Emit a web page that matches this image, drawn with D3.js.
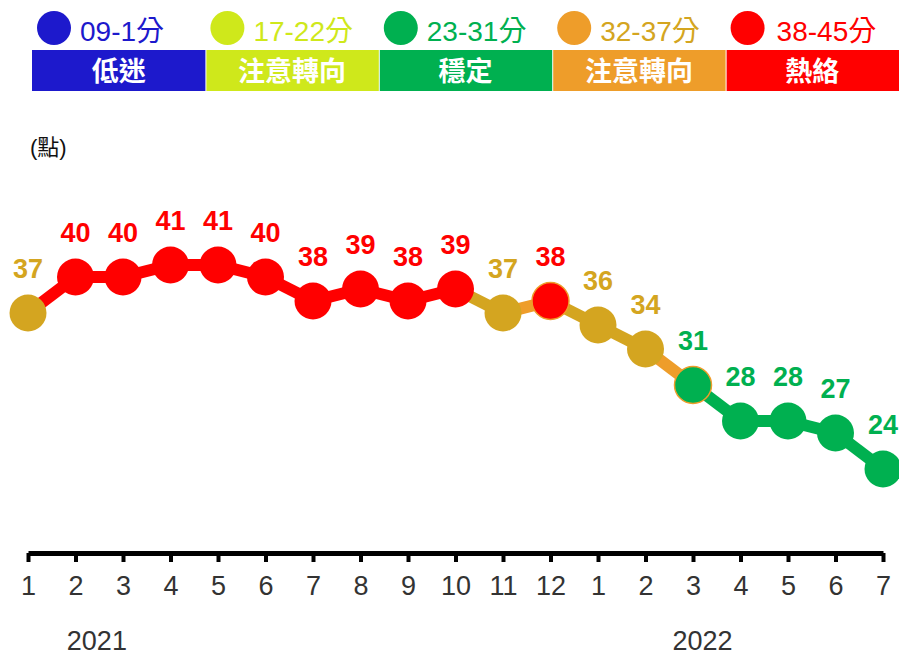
<!DOCTYPE html>
<html>
<head>
<meta charset="utf-8">
<script src="https://cdn.jsdelivr.net/npm/d3@7"></script>
<style>
  body { margin: 0; background: #fff; }
  svg { display: block; font-family: "Liberation Sans", Arial, "Noto Sans CJK TC", sans-serif; }
</style>
</head>
<body>
<div id="svganchor"></div>
<script>
let width = 899, height = 656;

// data
let months = ["1","2","3","4","5","6","7","8","9","10","11","12","1","2","3","4","5","6","7"];
let scores = [37, 40, 40, 41, 41, 40, 38, 39, 38, 39, 37, 38, 36, 34, 31, 28, 28, 27, 24];
let years = ["2021", "2022"];
let yearAt = [1.45, 14.2];   // position of year labels, in month-index units

let legendRanges = ["09-1分", "17-22分", "23-31分", "32-37分", "38-45分"];
let legendNames = ["低迷", "注意轉向", "穩定", "注意轉向", "熱絡"];
let legendColors = ["#1d19cc", "#cfe81b", "#00b050", "#ee9d2a", "#ff0000"];
let legendTextColors = ["#1d19cc", "#cfe81b", "#00b050", "#d4a520", "#ff0000"];

// line segment colours (between point i and i+1)
let segColors = ["#ff0000", "#ff0000", "#ff0000", "#ff0000", "#ff0000", "#ff0000", "#ff0000", "#ff0000", "#ff0000",
    "#d4a520", "#ee9d2a", "#d4a520", "#d4a520", "#ee9d2a",
    "#00b050", "#00b050", "#00b050", "#00b050"];

function pointColor(v) {
    if (v >= 38) return "#ff0000";
    if (v >= 32) return "#d4a520";
    if (v >= 23) return "#00b050";
    if (v >= 17) return "#cfe81b";
    return "#1d19cc";
}

let margin = ({top: 217, right: 16, bottom: 103, left: 28});

let xScale = d3.scaleLinear()
    .domain([0, scores.length - 1])
    .range([margin.left, width - margin.right]);

let yScale = d3.scaleLinear()
    .domain([17, 45])
    .range([height - margin.bottom, margin.top]);

let svg = d3.select("#svganchor")
    .append("svg")
    .attr("width", width)
    .attr("height", height);

// legend
let barX = d3.scaleBand()
    .domain(d3.range(legendNames.length))
    .range([32, width]);

let legendG = svg.append("g");

legendG.selectAll(".legbar")
    .data(legendNames)
    .enter()
    .append("rect")
    .attr("x", function(d, i) { return barX(i) + (i > 0 ? 1 : 0); })
    .attr("y", 50)
    .attr("width", function(d, i) { return barX.bandwidth() - (i > 0 ? 1 : 0); })
    .attr("height", 41)
    .attr("fill", function(d, i) { return legendColors[i]; });

legendG.selectAll(".legname")
    .data(legendNames)
    .enter()
    .append("text")
    .attr("x", function(d, i) { return barX(i) + barX.bandwidth() / 2; })
    .attr("y", 81)
    .attr("text-anchor", "middle")
    .attr("fill", "#fff")
    .attr("font-size", 27)
    .attr("font-weight", "bold")
    .text(function(d) { return d; });

legendG.selectAll(".legdot")
    .data(legendRanges)
    .enter()
    .append("circle")
    .attr("cx", function(d, i) { return barX(i) + 22; })
    .attr("cy", 28)
    .attr("r", 17)
    .attr("fill", function(d, i) { return legendColors[i]; });

legendG.selectAll(".legrange")
    .data(legendRanges)
    .enter()
    .append("text")
    .attr("x", function(d, i) { return barX(i) + 48 + (i === 4 ? 3 : 0); })
    .attr("y", 41)
    .attr("fill", function(d, i) { return legendTextColors[i]; })
    .attr("font-size", 28)
    .text(function(d) { return d; });

// unit
svg.append("text")
    .attr("x", 30)
    .attr("y", 155)
    .attr("font-size", 22)
    .attr("fill", "#111")
    .text("(點)");

// axis
let xAxis = d3.axisBottom(xScale)
    .tickValues(d3.range(scores.length))
    .tickFormat(function(i) { return months[i]; })
    .tickSizeOuter(0)
    .tickSizeInner(9)
    .tickPadding(14);

let gX = svg.append("g")
    .attr("class", "x axis")
    .attr("transform", `translate(0,${height - margin.bottom})`)
    .call(xAxis);

gX.select(".domain").attr("stroke", "#000").attr("stroke-width", 5);
gX.selectAll(".tick line").attr("stroke", "#000").attr("stroke-width", 4);
gX.selectAll(".tick text")
    .attr("fill", "#333")
    .attr("font-size", 27)
    .attr("font-family", "Liberation Sans, Arial, sans-serif");

svg.selectAll(".year")
    .data(years)
    .enter()
    .append("text")
    .attr("x", function(d, i) { return xScale(yearAt[i]); })
    .attr("y", 650)
    .attr("text-anchor", "middle")
    .attr("fill", "#333")
    .attr("font-size", 27)
    .text(function(d) { return d; });

// line segments
let segs = d3.range(scores.length - 1);

svg.selectAll(".seg")
    .data(segs)
    .enter()
    .append("line")
    .attr("x1", function(i) { return xScale(i); })
    .attr("y1", function(i) { return yScale(scores[i]); })
    .attr("x2", function(i) { return xScale(i + 1); })
    .attr("y2", function(i) { return yScale(scores[i + 1]); })
    .attr("stroke", function(i) { return segColors[i]; })
    .attr("stroke-width", 12);

// points
svg.selectAll(".dot")
    .data(scores)
    .enter()
    .append("circle")
    .attr("cx", function(d, i) { return xScale(i); })
    .attr("cy", function(d) { return yScale(d); })
    .attr("r", 18.5)
    .attr("fill", function(d) { return pointColor(d); })
    .attr("stroke", function(d, i) { return (i === 11 || i === 14) ? "#ee9d2a" : "none"; })
    .attr("stroke-width", 1.5);

// value labels
svg.selectAll(".val")
    .data(scores)
    .enter()
    .append("text")
    .attr("x", function(d, i) { return xScale(i); })
    .attr("y", function(d) { return yScale(d) - 35; })
    .attr("text-anchor", "middle")
    .attr("fill", function(d) { return pointColor(d); })
    .attr("font-size", 27)
    .attr("font-weight", "bold")
    .text(function(d) { return d; });
</script>
</body>
</html>
